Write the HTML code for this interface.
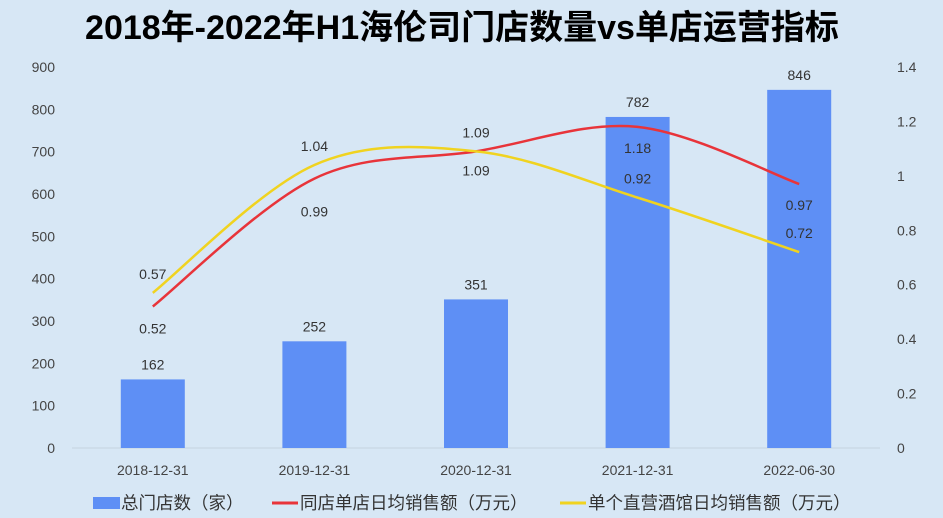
<!DOCTYPE html>
<html><head><meta charset="utf-8"><style>
body{margin:0;background:#d7e7f5;}
svg{display:block;font-family:"Liberation Sans","Noto Sans CJK SC",sans-serif;}
</style></head><body>
<svg id="c" width="943" height="518" viewBox="0 0 943 518">
<rect width="943" height="518" fill="#d7e7f5"/>
<text x="462" y="39" text-anchor="middle" font-size="34" font-weight="bold" fill="#000">2018年-2022年H1海伦司门店数量vs单店运营指标</text>
<g id="g"></g>
</svg>
<script>
const categories=["2018-12-31","2019-12-31","2020-12-31","2021-12-31","2022-06-30"];
const storeCounts=[162,252,351,782,846];
const sameStoreSales=[0.52,0.99,1.09,1.18,0.97];
const barSales=[0.57,1.04,1.09,0.92,0.72];
const leftTicks=[0,100,200,300,400,500,600,700,800,900];
const rightTicks=[0,0.2,0.4,0.6,0.8,1,1.2,1.4];
const NS="http://www.w3.org/2000/svg";
const g=document.getElementById('g');
const y0=448,yTop=67,x0=72,x1=880;
const yL=v=>y0-(v/900)*(y0-yTop);
const yR=v=>y0-(v/1.4)*(y0-yTop);
const xC=i=>x0+(x1-x0)*(i+0.5)/categories.length;
function mk(t,a,txt){const e=document.createElementNS(NS,t);for(const k in a)e.setAttribute(k,a[k]);if(txt!==undefined)e.textContent=txt;g.appendChild(e);return e;}
leftTicks.forEach(v=>{const e=mk('text',{x:55,y:yL(v)+5,'text-anchor':'end','font-size':14,fill:'#444'},v);

});
rightTicks.forEach(v=>{const e=mk('text',{x:897,y:yR(v)+5,'text-anchor':'start','font-size':14,fill:'#444'},String(v));

});
const ax=mk('line',{x1:x0,x2:x1,y1:y0,y2:y0,stroke:'#c6d3df','stroke-width':1});


categories.forEach((c,i)=>{const e=mk('text',{x:xC(i),y:475,'text-anchor':'middle','font-size':14,fill:'#444'},c);

});
storeCounts.forEach((v,i)=>{const b=mk('rect',{x:xC(i)-32,y:yL(v),width:64,height:y0-yL(v),fill:'#5e8ff5'});


const t=mk('text',{x:xC(i),y:yL(v)-10,'text-anchor':'middle','font-size':14,fill:'#333'},v);

});
function smooth(pts){let d=`M${pts[0][0]},${pts[0][1]}`;const t=1/6;for(let i=0;i<pts.length-1;i++){const p0=pts[i-1]||pts[i],p1=pts[i],p2=pts[i+1],p3=pts[i+2]||p2;
d+=` C${p1[0]+(p2[0]-p0[0])*t},${p1[1]+(p2[1]-p0[1])*t} ${p2[0]-(p3[0]-p1[0])*t},${p2[1]-(p3[1]-p1[1])*t} ${p2[0]},${p2[1]}`;}return d;}
function line(vals,color,name,off){const pts=vals.map((v,i)=>[xC(i),yR(v)]);
const p=mk('path',{d:smooth(pts),fill:'none',stroke:color,'stroke-width':2.5});


vals.forEach((v,i)=>{const t=mk('text',{x:xC(i),y:yR(v)+off[i],'text-anchor':'middle','font-size':14,fill:'#333'},v.toFixed(2));

});}
line(sameStoreSales,'#e8343a','same-store-sales-line',[27,38,24,26,26]);
line(barSales,'#f0d320','bar-sales-line',[-14,-14,-14,-14,-14]);
const leg=[['rect','#5e8ff5','总门店数（家）',93],['line','#e8343a','同店单店日均销售额（万元）',272],['line','#f0d320','单个直营酒馆日均销售额（万元）',560]];
leg.forEach(l=>{let m;if(l[0]==='rect')m=mk('rect',{x:l[3],y:497,width:27,height:12,fill:l[1]});else m=mk('line',{x1:l[3],x2:l[3]+26,y1:503,y2:503,stroke:l[1],'stroke-width':3});


const t=mk('text',{x:l[3]+28,y:509,'font-size':17.5,fill:'#333'},l[2]);

});
</script>
</body></html>
